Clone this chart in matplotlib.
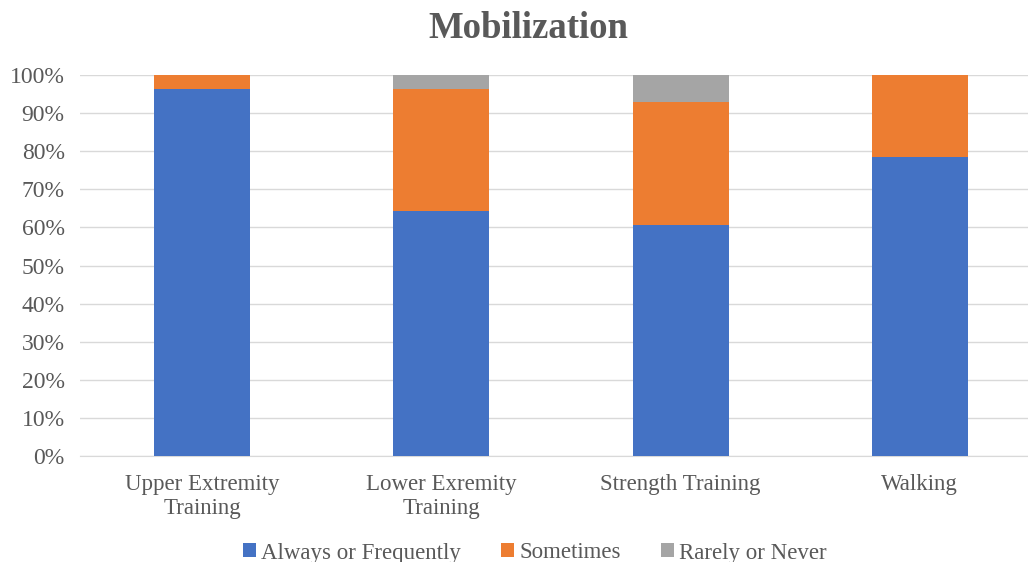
import matplotlib
matplotlib.use("Agg")
import matplotlib.pyplot as plt
import numpy as np
from matplotlib.ticker import PercentFormatter

categories = ["Upper Extremity\nTraining", "Lower Exremity\nTraining", "Strength Training", "Walking"]
always = [96.4, 64.3, 60.7, 78.6]
sometimes = [3.6, 32.1, 32.1, 21.4]
rarely = [0.0, 3.6, 7.1, 0.0]
series_names = ["Always or Frequently", "Sometimes", "Rarely or Never"]
colors = ["#4472C4", "#ED7D31", "#A5A5A5"]

plt.rcParams['font.family'] = ['Liberation Serif', 'DejaVu Serif']
text_color = "#595959"

fig = plt.figure(figsize=(10.28, 5.62), dpi=100)
ax = fig.add_axes([80/1028, 1-456/562, (1028-80)/1028, (456-75)/562])

x = np.arange(len(categories))
w = 0.401
bottom = np.zeros(len(categories))
for vals, name, c in zip([always, sometimes, rarely], series_names, colors):
    ax.bar(x, vals, w, bottom=bottom, color=c, label=name, zorder=3)
    bottom += np.array(vals)

ax.set_xlim(-0.51, 3.452)
ax.set_ylim(0, 100)
ax.set_yticks(np.arange(0, 101, 10))
ax.yaxis.set_major_formatter(PercentFormatter(decimals=0))
ax.set_xticks(x)
ax.set_xticklabels(categories)
ax.grid(axis='y', color='#D9D9D9', linewidth=1, zorder=0)
for s in ['top', 'right', 'left']:
    ax.spines[s].set_visible(False)
ax.spines['bottom'].set_color('#D9D9D9')
ax.tick_params(axis='both', length=0, colors=text_color)
ax.tick_params(axis='y', pad=11, labelsize=17)
ax.tick_params(axis='x', pad=13, labelsize=16.5)
for lab in ax.get_xticklabels():
    lab.set_linespacing(1.2)

fig.text(528/1028, 1-28/562, "Mobilization", ha='center', va='center', fontsize=26.5,
         fontweight='bold', color=text_color)

leg = fig.legend(loc='center', bbox_to_anchor=(535/1028, 1-553/562), ncol=3, frameon=False,
                 fontsize=16.5, handlelength=0.55, handleheight=0.55, handletextpad=0.25,
                 columnspacing=1.75, labelcolor=text_color)

fig.savefig("out.png", dpi=100)
